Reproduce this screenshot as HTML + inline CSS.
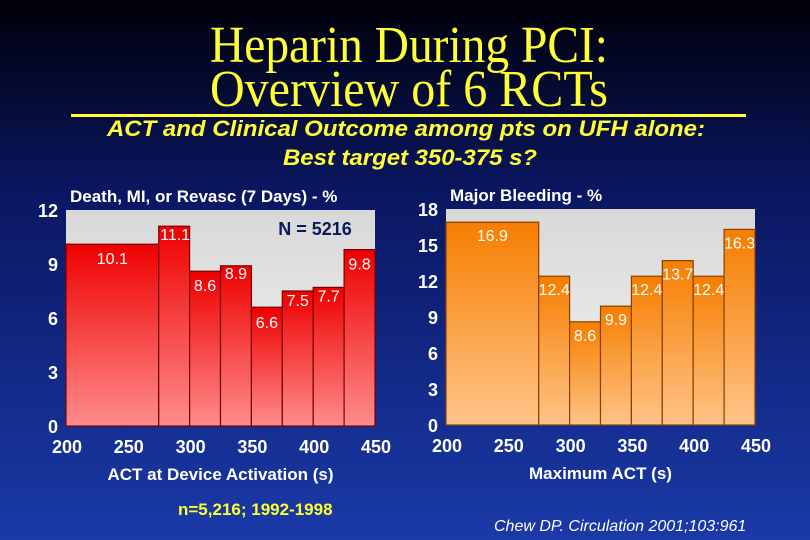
<!DOCTYPE html>
<html><head><meta charset="utf-8"><style>
html,body{margin:0;padding:0;width:810px;height:540px;overflow:hidden;background:#000}
svg{display:block}
</style></head><body>
<svg id="s" width="810" height="540" viewBox="0 0 810 540" xmlns="http://www.w3.org/2000/svg">
<defs>
<linearGradient id="bg" x1="0" y1="0" x2="0" y2="1"><stop offset="0" stop-color="#000008"/><stop offset="0.35" stop-color="#0a1660"/><stop offset="1" stop-color="#1a3aa8"/></linearGradient>
<linearGradient id="plotbg" x1="0" y1="0" x2="0" y2="1"><stop offset="0" stop-color="#d8d8d8"/><stop offset="1" stop-color="#f4f4f4"/></linearGradient>
<linearGradient id="red" x1="0" y1="0" x2="0" y2="1"><stop offset="0" stop-color="#ee0000"/><stop offset="1" stop-color="#ff8c8c"/></linearGradient>
<linearGradient id="org" x1="0" y1="0" x2="0" y2="1"><stop offset="0" stop-color="#f57e00"/><stop offset="1" stop-color="#ffc488"/></linearGradient>
</defs>
<rect width="810" height="540" fill="url(#bg)"/>
<g font-family="Liberation Serif, serif" fill="#ffff33" font-size="52" text-anchor="middle">
<text x="409" y="62" textLength="398" lengthAdjust="spacingAndGlyphs">Heparin During PCI:</text>
<text x="409" y="106" textLength="398" lengthAdjust="spacingAndGlyphs">Overview of 6 RCTs</text>
</g>
<rect x="71" y="114" width="675" height="3" fill="#ffff33"/>
<g font-family="Liberation Sans, sans-serif" font-weight="bold" font-style="italic" fill="#ffff33" font-size="22" text-anchor="middle">
<text x="406" y="136" textLength="598" lengthAdjust="spacingAndGlyphs">ACT and Clinical Outcome among pts on UFH alone:</text>
<text x="410" y="165" textLength="254" lengthAdjust="spacingAndGlyphs">Best target 350-375 s?</text>
</g>
<g id="left"></g>
<g id="right"></g>
<text x="178" y="515" font-family="Liberation Sans, sans-serif" font-weight="bold" font-size="17" fill="#ffff33">n=5,216; 1992-1998</text>
<text x="494" y="531" font-family="Liberation Sans, sans-serif" font-style="italic" font-size="16" fill="#ffffff">Chew DP.  Circulation 2001;103:961</text>
</svg>
<script>
const binEdges = [200,275,300,325,350,375,400,425,450];
const leftValues = [10.1,11.1,8.6,8.9,6.6,7.5,7.7,9.8];
const rightValues = [16.9,12.4,8.6,9.9,12.4,13.7,12.4,16.3];
const xTicks = [200,250,300,350,400,450];
const leftYTicks = [0,3,6,9,12];
const rightYTicks = [0,3,6,9,12,15,18];
const NS='http://www.w3.org/2000/svg';
function mk(tag, attrs, parent){const e=document.createElementNS(NS,tag);for(const k in attrs)e.setAttribute(k,attrs[k]);parent.appendChild(e);return e;}
function chart(g, cfg){
  const xs=v=>cfg.x0+(v-200)/(450-200)*(cfg.x1-cfg.x0);
  const ys=v=>cfg.y1-v/cfg.ymax*(cfg.y1-cfg.y0);
  const bg=mk('rect',{x:cfg.x0,y:cfg.y0,width:cfg.x1-cfg.x0,height:cfg.y1-cfg.y0,fill:'url(#plotbg)'},g);
  
  
  cfg.values.forEach((v,i)=>{
    const a=xs(binEdges[i]),b=xs(binEdges[i+1]);
    const r=mk('rect',{x:a,y:ys(v),width:b-a,height:ys(0)-ys(v),fill:cfg.fill,stroke:cfg.stroke,'stroke-width':1.2},g);
    
    
  });
  cfg.values.forEach((v,i)=>{
    const a=xs(binEdges[i]),b=xs(binEdges[i+1]);
    const dy=cfg.labelDy[i];
    const t=mk('text',{x:(a+b)/2+cfg.labelDx[i],y:ys(v)+dy,'text-anchor':'middle','font-family':'Liberation Sans, sans-serif','font-size':16,fill:'#ffffff'},g);
    t.textContent=v.toFixed(1);
    
    
  });
  cfg.yTicks.forEach(v=>{
    const t=mk('text',{x:cfg.x0-8,y:ys(v)+7,'text-anchor':'end','font-family':'Liberation Sans, sans-serif','font-weight':'bold','font-size':18,fill:'#ffffff'},g);
    t.textContent=v;
    
    
  });
  xTicks.forEach(v=>{
    const t=mk('text',{x:xs(v)+1,y:cfg.y1+27,'text-anchor':'middle','font-family':'Liberation Sans, sans-serif','font-weight':'bold','font-size':18,fill:'#ffffff'},g);
    t.textContent=v;
    
    
  });
  const ax=mk('text',{x:(cfg.x0+cfg.x1)/2,y:cfg.y1+54,'text-anchor':'middle','font-family':'Liberation Sans, sans-serif','font-weight':'bold','font-size':17,fill:'#ffffff'},g);
  ax.textContent=cfg.xTitle;
  
  
  const tt=mk('text',{x:cfg.x0+4,y:cfg.y0-8,'font-family':'Liberation Sans, sans-serif','font-weight':'bold','font-size':17,fill:'#ffffff'},g);
  tt.textContent=cfg.title;
  
  
}
chart(document.getElementById('left'),{x0:66,x1:375,y0:210,y1:426,ymax:12,values:leftValues,yTicks:leftYTicks,fill:'url(#red)',stroke:'#7a0000',
  labelDx:[0,1,0,0,0,0,0,0],labelDy:[20,14,20,13,21,15,14,20],xTitle:'ACT at Device Activation (s)',title:'Death, MI, or Revasc (7 Days) - %'});
chart(document.getElementById('right'),{x0:446,x1:755,y0:209,y1:425,ymax:18,values:rightValues,yTicks:rightYTicks,fill:'url(#org)',stroke:'#8a4000',
  labelDx:[0,0,0,0,0,0,0,0],labelDy:[19,19,19,19,19,19,19,19],xTitle:'Maximum ACT (s)',title:'Major Bleeding - %'});
const n=document.createElementNS(NS,'text');
n.setAttribute('x',315);n.setAttribute('y',235);n.setAttribute('text-anchor','middle');
n.setAttribute('font-family','Liberation Sans, sans-serif');n.setAttribute('font-weight','bold');n.setAttribute('font-size',18);n.setAttribute('fill','#0b1a5a');
n.textContent='N = 5216';


document.getElementById('left').appendChild(n);
</script>
</body></html>
